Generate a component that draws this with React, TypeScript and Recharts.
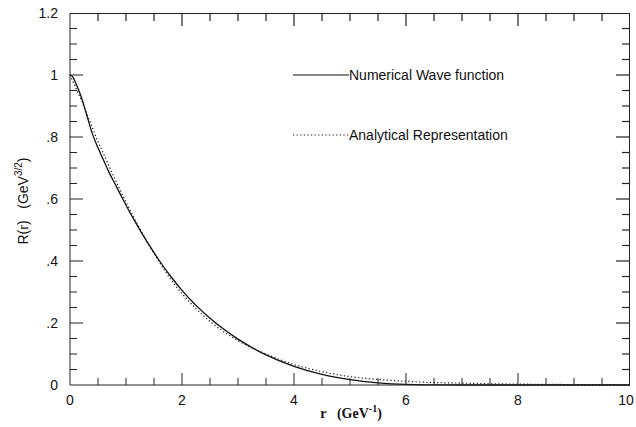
import { LineChart, Line, XAxis, YAxis, Legend, CartesianGrid } from 'recharts';

// radius r in GeV^-1
const rValues = [0, 0.05, 0.1, 0.2, 0.3, 0.4, 0.5, 0.6, 0.7, 0.8, 0.9, 1.0, 1.2, 1.4, 1.6, 1.8, 2.0, 2.5, 3.0, 3.5, 4.0, 4.5, 5.0, 5.5, 6.0, 6.5, 7, 7.5, 8, 8.5, 9, 9.5, 10];
const numericalWave = [1, 0.994, 0.975, 0.93, 0.87, 0.81, 0.765, 0.725, 0.685, 0.65, 0.615, 0.58, 0.515, 0.455, 0.4, 0.35, 0.305, 0.215, 0.148, 0.097, 0.06, 0.034, 0.017, 0.007, 0.002, 0.0005, 0, 0, 0, 0, 0, 0, 0];
const analyticalRep = [1, 0.98, 0.96, 0.92, 0.875, 0.83, 0.785, 0.745, 0.705, 0.665, 0.627, 0.59, 0.52, 0.455, 0.395, 0.34, 0.295, 0.205, 0.143, 0.1, 0.066, 0.043, 0.027, 0.018, 0.012, 0.008, 0.006, 0.004, 0.003, 0.002, 0.0015, 0.001, 0.0008];

const seriesNames = ['Numerical Wave function', 'Analytical Representation'];

const xTicks = [0, 0.5, 1, 1.5, 2, 2.5, 3, 3.5, 4, 4.5, 5, 5.5, 6, 6.5, 7, 7.5, 8, 8.5, 9, 9.5, 10];
const xLabels = [0, 2, 4, 6, 8, 10];
const yTicks = [0, 0.05, 0.1, 0.15, 0.2, 0.25, 0.3, 0.35, 0.4, 0.45, 0.5, 0.55, 0.6, 0.65, 0.7, 0.75, 0.8, 0.85, 0.9, 0.95, 1, 1.05, 1.1, 1.15, 1.2];
const yLabels = [0, 0.2, 0.4, 0.6, 0.8, 1, 1.2];

const data = rValues.map((r, i) => ({ r, numerical: numericalWave[i], analytical: analyticalRep[i] }));

// plot box edges (px)
const LEFT = 70, RIGHT = 630, TOP = 13, BOTTOM = 385;
const INK = '#222';
const SANS = '"Liberation Sans", Arial, sans-serif';
const SERIF = '"Liberation Serif", "Times New Roman", serif';

const isLabel = (list: number[], v: number) => list.some(l => Math.abs(l - v) < 1e-6);
const fmtY = (v: number) => (v === 0 ? '0' : String(v).replace(/^0\./, '.'));
const xLen = (v: number) => (isLabel(xLabels, v) ? 12 : 7);
const yLen = (v: number) => (isLabel(yLabels, v) ? 13 : 7);

// bottom axis tick: inward mark at the bottom, mirrored mark at the top, label
const XTick = (props: any) => {
    const { x, payload } = props;
    const v = payload.value;
    const edge = v === 0 || v === 10;
    return (
        <g>
            {!edge && <path d={`M${x},${BOTTOM}V${BOTTOM - xLen(v)}`} stroke={INK} fill="none" />}
            {!edge && <path d={`M${x},${TOP + 1}V${TOP + 1 + xLen(v)}`} stroke={INK} strokeWidth={1.2} fill="none" />}
            {isLabel(xLabels, v) && (
                <text x={v === 10 ? x - 4 : x} y={BOTTOM + 20} textAnchor="middle" fontFamily={SANS} fontSize={14} fill="#111">{v}</text>
            )}
        </g>
    );
};

// left axis tick: inward mark at the left, mirrored mark at the right, label
const YTick = (props: any) => {
    const { y, payload } = props;
    const v = payload.value;
    const edge = v === 0 || Math.abs(v - 1.2) < 1e-6;
    return (
        <g>
            {!edge && <path d={`M${LEFT},${y}H${LEFT + yLen(v)}`} stroke={INK} fill="none" />}
            {!edge && <path d={`M${RIGHT - 1},${y}H${RIGHT - 1 - yLen(v)}`} stroke={INK} strokeWidth={1.2} fill="none" />}
            {isLabel(yLabels, v) && (
                <text x={LEFT - 12} y={y + 5} textAnchor="end" fontFamily={SANS} fontSize={14} fill="#111">{fmtY(v)}</text>
            )}
        </g>
    );
};

const LegendBox = ({ payload }: any) => {
    const items = seriesNames.map(n => (payload || []).find((p: any) => p.value === n)).filter(Boolean);
    return (
        <div style={{ fontFamily: SANS, fontSize: 14, color: '#111' }}>
            {items.map((item: any, i: number) => (
                <div key={item.value} style={{ display: 'flex', alignItems: 'center', height: 20, marginTop: i === 0 ? 0 : 40 }}>
                    <svg width={56} height={20} style={{ display: 'block' }}>
                        <line x1={0} x2={56} y1={10} y2={10} stroke="#111" strokeWidth={1.2}
                            strokeDasharray={item.payload?.strokeDasharray || undefined} />
                    </svg>
                    <span style={{ whiteSpace: 'nowrap' }}>{item.value}</span>
                </div>
            ))}
        </div>
    );
};

export default function App() {
    return (
        <div style={{ position: 'absolute', left: 0, top: 0, width: 636, height: 427, background: 'white' }}>
            <LineChart width={636} height={427} data={data} margin={{ top: 13, right: 6, bottom: 0, left: 10 }}>
                {/* the plot box outline */}
                <CartesianGrid horizontal={false} vertical={false} fill="none" stroke={INK} strokeWidth={1.5} />
                <XAxis dataKey="r" type="number" domain={[0, 10]} ticks={xTicks} interval={0}
                    tick={XTick} tickLine={false} height={42} stroke={INK}
                    label={{
                        content: () => (
                            <text x={351} y={418} textAnchor="middle" fontFamily={SERIF} fontWeight="bold" fontSize={14} fill="#111">
                                r{'\u00a0\u00a0\u00a0'}(GeV<tspan dy={-6} fontSize={10}>-1</tspan><tspan dy={6}>)</tspan>
                            </text>
                        ),
                    }} />
                <YAxis type="number" domain={[0, 1.2]} ticks={yTicks} interval={0}
                    tick={YTick} tickLine={false} width={60} stroke={INK}
                    label={{
                        content: () => (
                            <text x={28} y={201} transform="rotate(-90 28 201)" textAnchor="middle" fontFamily={SANS} fontSize={14} fill="#111">
                                R(<tspan fontFamily={SERIF}>r</tspan>){'\u00a0\u00a0\u00a0'}(GeV<tspan dy={-6} fontSize={10}>3/2</tspan><tspan dy={6}>)</tspan>
                            </text>
                        ),
                    }} />
                <Legend layout="horizontal" verticalAlign="middle" align="center" content={LegendBox}
                    wrapperStyle={{ left: 293, top: 65, width: 320 }} />
                <Line name="Numerical Wave function" dataKey="numerical" type="monotone" stroke="#111"
                    strokeWidth={1.3} dot={false} isAnimationActive={false} />
                <Line name="Analytical Representation" dataKey="analytical" type="monotone" stroke="#111"
                    strokeWidth={1.2} strokeDasharray="1.2 2.4" dot={false} isAnimationActive={false} />
            </LineChart>
            <div style={{
                position: 'absolute', left: LEFT, top: TOP, width: RIGHT - LEFT, height: BOTTOM - TOP,
                borderTop: `1px solid ${INK}`, borderRight: `1px solid ${INK}`, boxSizing: 'border-box', pointerEvents: 'none',
            }} />
        </div>
    );
}
